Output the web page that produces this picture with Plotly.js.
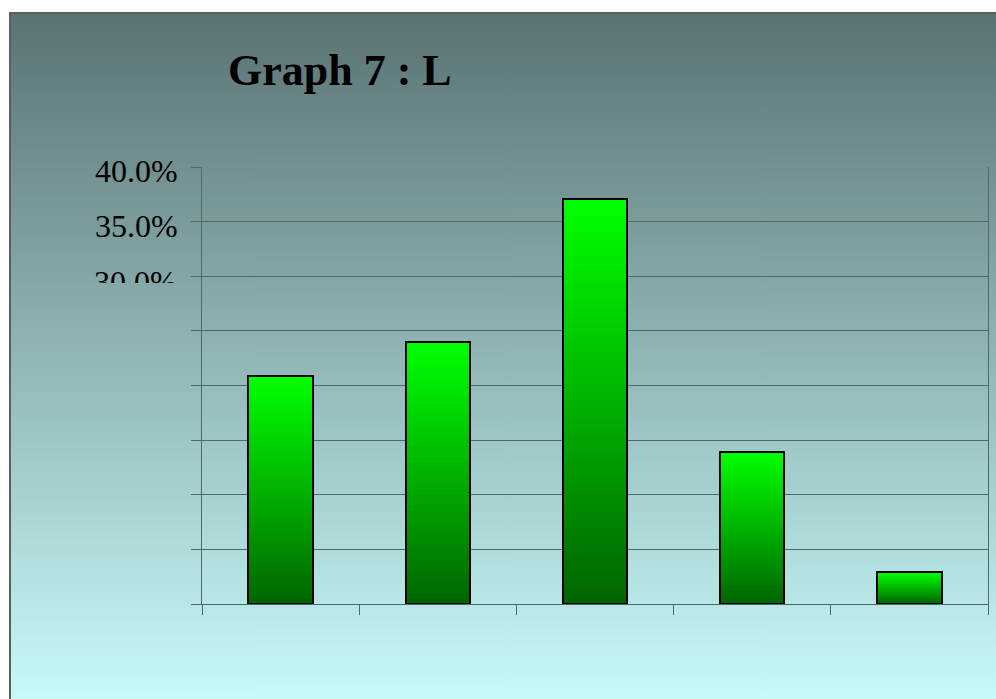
<!DOCTYPE html>
<html>
<head>
<meta charset="utf-8">
<script src="https://cdn.plot.ly/plotly-3.0.1.min.js"></script>
<style>
  html, body { margin: 0; padding: 0; background: #ffffff; width: 996px; height: 699px; overflow: hidden; }
  #bg { position: absolute; left: 9px; top: 12px; width: 987px; height: 687px;
        border-left: 2px solid #5e5e5e; border-top: 2px solid #5e5e5e;
        background: linear-gradient(to bottom, #5a7373 0%, #86a8a8 40%, #c8fafa 100%); }
  #chart { position: absolute; left: 0; top: 0; width: 996px; height: 699px; }
</style>
</head>
<body>
<div id="bg"></div>
<div id="chart"></div>
<script>
// ---- data ----
const categories = ["1", "2", "3", "4", "5"];
const values = [20.9, 24.0, 37.1, 13.9, 2.9];
const tickValues = [0, 5, 10, 15, 20, 25, 30, 35, 40];
const tickLabels = ["", "", "", "", "", "", "", "35.0%", "40.0%"];
const clippedLabel = "30.0%";   // the partly hidden 30% label
const clippedLabelValue = 30;
const titleText = "Graph 7 : L";

// ---- gradient layers (stacked bar slices) ----
const LAYERS = 48;
const dark = [0, 102, 0], bright = [0, 255, 0];
const traces = [];
for (let k = 0; k < LAYERS; k++) {
  const t = k / (LAYERS - 1);
  const c = dark.map((d, i) => Math.round(d + (bright[i] - d) * t));
  traces.push({
    type: 'bar', x: categories, y: values.map(v => v / LAYERS),
    marker: { color: `rgb(${c[0]},${c[1]},${c[2]})`, line: { width: 0 } },
    xaxis: 'x', yaxis: 'y', hoverinfo: 'skip', showlegend: false
  });
}
// outline
traces.push({
  type: 'bar', x: categories, y: values,
  marker: { color: 'rgba(0,0,0,0)', line: { color: '#000000', width: 2 } },
  xaxis: 'x2', yaxis: 'y', hoverinfo: 'skip', showlegend: false
});

const serif = 'Liberation Serif, Times New Roman, serif';
const gridCol = '#4f6868';
const layout = {
  width: 996, height: 699,
  paper_bgcolor: 'rgba(0,0,0,0)', plot_bgcolor: 'rgba(0,0,0,0)',
  margin: { l: 202, r: 8, t: 167, b: 95 },
  barmode: 'stack', bargap: 0.59,
  showlegend: false,
  font: { family: serif, color: '#000000' },
  title: {
    text: '<b>' + titleText + '</b>',
    font: { family: serif, size: 44, color: '#000000' },
    x: 228 / 996, xanchor: 'left', xref: 'container',
    y: 1 - 70 / 699, yanchor: 'middle', yref: 'container'
  },
  xaxis: {
    type: 'category', showticklabels: false, showgrid: false,
    ticks: 'outside', ticklen: 10, tickcolor: gridCol, tickwidth: 1, tickson: 'boundaries',
    showline: true, linecolor: gridCol, linewidth: 1, zeroline: false, fixedrange: true
  },
  xaxis2: {
    type: 'category', overlaying: 'x', matches: 'x', visible: false, showgrid: false
  },
  yaxis: {
    range: [0, 40], tickmode: 'array', tickvals: tickValues, ticktext: tickLabels,
    ticks: 'outside', ticklen: 10, tickcolor: gridCol, tickwidth: 1,
    ticklabelstandoff: 7, ticklabelshift: 4,
    tickfont: { size: 32, family: serif, color: '#000000' },
    showgrid: true, gridcolor: gridCol, gridwidth: 1,
    showline: true, linecolor: gridCol, linewidth: 1, mirror: true,
    zeroline: false, fixedrange: true
  },
  annotations: [{
    text: clippedLabel, showarrow: false,
    xref: 'paper', x: -24 / 786, xanchor: 'right',
    yref: 'y', y: clippedLabelValue, yanchor: 'top', yshift: 13,
    height: 19, valign: 'top', borderpad: 0,
    font: { size: 32, family: serif, color: '#000000' }
  }]
};

Plotly.newPlot('chart', traces, layout, { staticPlot: true, displayModeBar: false });
</script>
</body>
</html>
